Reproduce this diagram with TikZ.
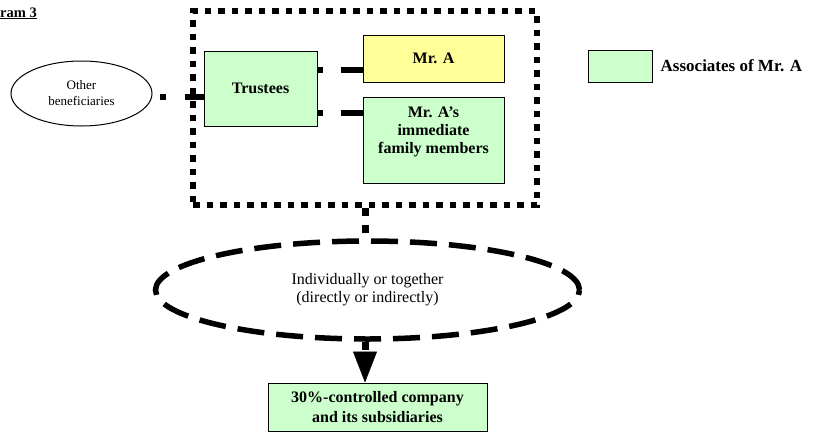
\documentclass[tikz,border=0pt]{standalone}
\usepackage{fontspec}
\setmainfont{Liberation Serif}
\usetikzlibrary{shapes.geometric,arrows.meta,positioning}
\definecolor{assocgreen}{RGB}{204,255,204}
\definecolor{mryellow}{RGB}{255,255,153}

\begin{document}
\begin{tikzpicture}[x=1pt,y=-1pt,
            box/.style={draw,line width=1pt,fill=assocgreen,inner sep=0pt,align=center,font=\fontsize{16}{18}\selectfont\bfseries},
            link/.style={line width=5.5pt},
            dotlink/.style={line width=7pt,dash pattern=on 8pt off 9pt}]
            \useasboundingbox (0,0) rectangle (814,432);

            \node[anchor=base west,inner sep=0pt,font=\fontsize{14.5}{16}\selectfont\bfseries] (title) at (0,17) {\underline{ram 3}};

            \node[draw,line width=6.5pt,dash pattern=on 6.5pt off 7pt,inner sep=0pt,minimum width=344,minimum height=194] (group) at (365,108) {};

            \node[box,minimum width=113,minimum height=75] (trustees) at (260.5,88.5) {Trustees};
            \node[box,fill=mryellow,minimum width=141,minimum height=47] (mra) at (433.5,58.5) {Mr. A};
            \node[box,minimum width=141,minimum height=86,text depth=20pt] (family) at (433.5,140) {Mr. A’s\\immediate\\family members};

            \node[draw,ellipse,line width=1pt,minimum width=141,minimum height=65,align=center,font=\fontsize{13}{16}\selectfont] (others) at (81.5,93.5) {Other\\beneficiaries};

            \node[box,minimum width=64,minimum height=32] (legend) at (620,66) {};
            \node[right=8pt of legend,inner sep=0pt,font=\fontsize{17}{19}\selectfont\bfseries] (legendtext) {Associates of Mr. A};

            \node[draw,ellipse,line width=5.5pt,dash pattern=on 27pt off 12pt,minimum width=424,minimum height=98,align=center,font=\fontsize{16}{18}\selectfont] (together) at (367.5,290) {Individually or together\\(directly or indirectly)};

            \node[box,minimum width=219,minimum height=48,font=\fontsize{16}{20}\selectfont\bfseries] (company) at (377.5,407) {30\%-controlled company\\and its subsidiaries};

            \draw[link,dash pattern=on 19pt off 19pt on 6pt off 40pt] (trustees.west |- 0,97) -- (others.east |- 0,97);
            \draw[link,dash pattern=on 5pt off 18pt on 40pt] (trustees.east |- 0,70) -- (mra.west |- 0,70);
            \draw[link,dash pattern=on 5pt off 18pt on 40pt] (trustees.east |- 0,113) -- (family.west |- 0,113);

            \draw[dotlink] (group.south) -- (together.north -| group.south);
            \draw[dotlink,dash pattern=on 8pt off 7pt,-{Triangle[width=24pt,length=31pt,line width=0.5pt]}] (together.south -| group.south) -- (company.north -| group.south);
        \end{tikzpicture}
\end{document}
